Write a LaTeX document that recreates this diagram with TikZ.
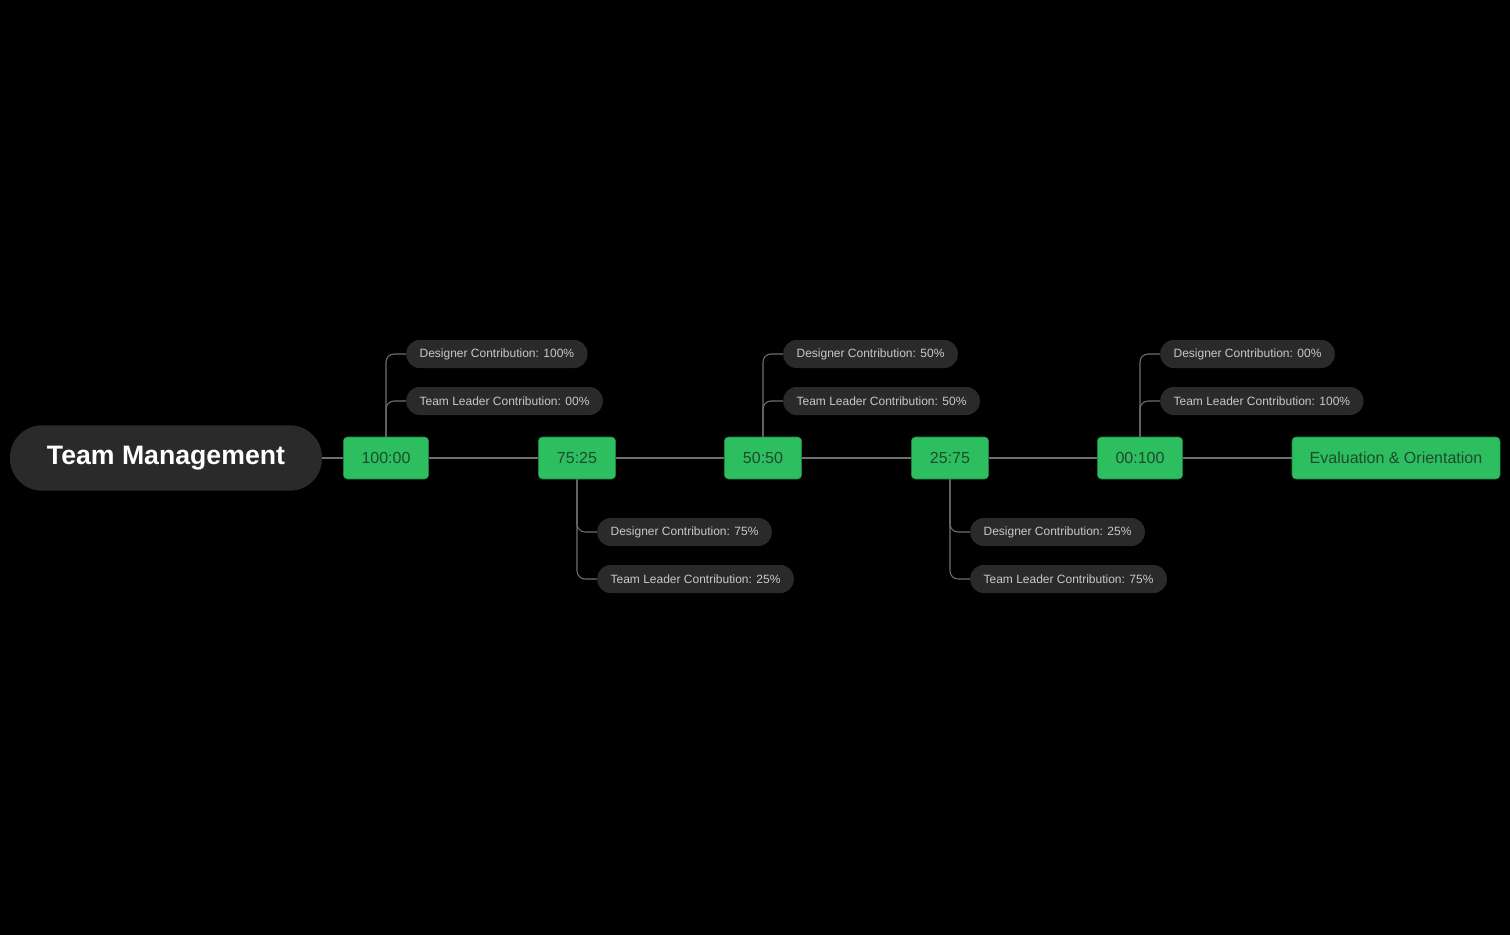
\documentclass[tikz,border=0pt]{standalone}
\usepackage{fontspec}
\setmainfont{Liberation Sans}
\usetikzlibrary{positioning}
\definecolor{stagegreen}{HTML}{2DBE60}
\definecolor{pillgray}{HTML}{2A2A2A}
\definecolor{linegray}{HTML}{707070}
\definecolor{pilltext}{HTML}{C8C8C8}
\definecolor{stagetext}{HTML}{1E4A2C}
\tikzset{
  stage/.style={draw=stagegreen!70!black, fill=stagegreen, rounded corners=3pt,
    minimum height=31.5pt, text=stagetext, font=\fontsize{12}{14}\selectfont, inner sep=0pt},
  pill/.style={fill=pillgray, rounded corners=10pt, minimum height=21pt, anchor=west,
    text=pilltext, font=\fontsize{9}{11}\selectfont, inner xsep=10pt, inner ysep=0pt},
  link/.style={draw=linegray, line width=0.8pt},
}
\begin{document}
\begin{tikzpicture}[x=0.75pt, y=-0.75pt]
    \fill[black] (0,0) rectangle (1510,935);
    \useasboundingbox (0,0) rectangle (1510,935);

    % Root
    \node[fill=pillgray, rounded corners=24pt, minimum width=234pt, minimum height=49pt,
    text=white, font=\fontsize{20}{24}\selectfont\bfseries] (root) at (166,458) {Team Management};

    % Stages
    \node[stage, minimum width=64pt] (s1) at (386,458) {100:00};
    \node[stage, minimum width=58pt] (s2) at (577,458) {75:25};
    \node[stage, minimum width=58pt] (s3) at (763,458) {50:50};
    \node[stage, minimum width=58pt] (s4) at (950,458) {25:75};
    \node[stage, minimum width=64pt] (s5) at (1140,458) {00:100};
    \node[stage, minimum width=156pt] (eval) at (1396,458) {Evaluation \& Orientation};

    \draw[link] (root) -- (s1) -- (s2) -- (s3) -- (s4) -- (s5) -- (eval);

    % Contributions above
    \node[pill] (d1) at (406,354) {Designer Contribution: 100\%};
    \node[pill] (t1) at (406,401) {Team Leader Contribution: 00\%};
    \node[pill] (d3) at (783,354) {Designer Contribution: 50\%};
    \node[pill] (t3) at (783,401) {Team Leader Contribution: 50\%};
    \node[pill] (d5) at (1160,354) {Designer Contribution: 00\%};
    \node[pill] (t5) at (1160,401) {Team Leader Contribution: 100\%};

    % Contributions below
    \node[pill] (d2) at (597,532) {Designer Contribution: 75\%};
    \node[pill] (t2) at (597,579) {Team Leader Contribution: 25\%};
    \node[pill] (d4) at (970,532) {Designer Contribution: 25\%};
    \node[pill] (t4) at (970,579) {Team Leader Contribution: 75\%};

    \foreach \s/\side/\d/\t in {s1/north/d1/t1, s2/south/d2/t2, s3/north/d3/t3,
                                s4/south/d4/t4, s5/north/d5/t5}{
        \draw[link, rounded corners=6pt] (\s.\side) |- (\d.west);
        \draw[link, rounded corners=6pt] (\s.\side) |- (\t.west);
    }
\end{tikzpicture}
\end{document}
